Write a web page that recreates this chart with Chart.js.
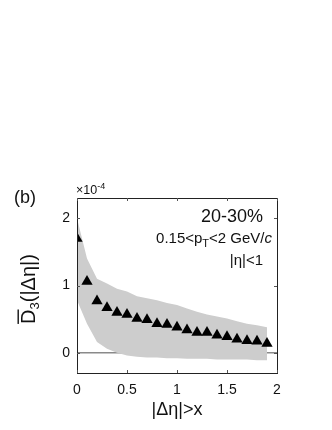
<!DOCTYPE html>
<html><head><meta charset="utf-8">
<script src="https://cdn.jsdelivr.net/npm/chart.js@4/dist/chart.umd.min.js"></script>
<style>html,body{margin:0;padding:0;background:#fff}canvas{display:block}</style>
</head><body>
<canvas id="c" width="332" height="430"></canvas>
<script>
const deltaEta = [0,0.1,0.2,0.3,0.4,0.5,0.6,0.7,0.8,0.9,1.0,1.1,1.2,1.3,1.4,1.5,1.6,1.7,1.8,1.9];
const d3Values = [1.70,1.06,0.77,0.67,0.60,0.57,0.51,0.49,0.43,0.42,0.38,0.34,0.30,0.30,0.26,0.24,0.20,0.18,0.17,0.14];
const bandUpper = [2.00,1.40,1.10,1.03,0.95,0.91,0.84,0.81,0.78,0.74,0.71,0.66,0.61,0.57,0.54,0.51,0.47,0.43,0.41,0.38];
const bandLower = [0.78,0.43,0.16,0.06,0.00,-0.04,-0.06,-0.07,-0.07,-0.08,-0.08,-0.09,-0.09,-0.09,-0.10,-0.10,-0.10,-0.10,-0.11,-0.11];
const xTicks = [0,0.5,1,1.5,2];
const yTicks = [0,1,2];
const xTickLabels = ["0","0.5","1","1.5","2"];
const yTickLabels = ["0","1","2"];

const FONT = '"Liberation Sans", Arial, Helvetica, sans-serif';

const decor = {
  id: 'decor',
  beforeDatasetsDraw(chart) {
    const {ctx, chartArea: a, scales: {x, y}} = chart;
    ctx.save();
    const y0 = y.getPixelForValue(0);
    ctx.strokeStyle = '#8a8a8a'; ctx.lineWidth = 1.5;
    ctx.beginPath(); ctx.moveTo(a.left, y0); ctx.lineTo(a.right, y0); ctx.stroke();
    ctx.restore();
  },
  afterDraw(chart) {
    const {ctx, chartArea: a, scales: {x, y}} = chart;
    ctx.save();
    // frame
    ctx.strokeStyle = '#222'; ctx.lineWidth = 1;
    ctx.strokeRect(Math.round(a.left)+0.5, Math.round(a.top)+0.5, Math.round(a.right-a.left), Math.round(a.bottom-a.top));
    // inward ticks
    ctx.strokeStyle = '#555';
    const tl = 3;
    ctx.beginPath();
    xTicks.forEach(v => { const px = Math.round(x.getPixelForValue(v))+0.5;
      ctx.moveTo(px, a.bottom); ctx.lineTo(px, a.bottom - tl);
      ctx.moveTo(px, a.top); ctx.lineTo(px, a.top + tl); });
    yTicks.forEach(v => { const py = Math.round(y.getPixelForValue(v))+0.5;
      ctx.moveTo(a.left, py); ctx.lineTo(a.left + tl, py);
      ctx.moveTo(a.right, py); ctx.lineTo(a.right - tl, py); });
    ctx.stroke();

    ctx.fillStyle = '#111';
    ctx.textBaseline = 'alphabetic';
    // (b)
    ctx.font = '18px ' + FONT; ctx.textAlign = 'left';
    ctx.fillText('(b)', 14, 203);
    // ×10^-4
    ctx.font = '12.5px ' + FONT;
    ctx.fillText('\u00d710', 76, 194);
    let w = ctx.measureText('\u00d710').width;
    ctx.font = '9px ' + FONT;
    ctx.fillText('-4', 76 + w, 189);

    // annotations (right aligned)
    ctx.font = '18px ' + FONT; ctx.textAlign = 'right';
    ctx.fillText('20-30%', 263, 222);
    ctx.font = '15px ' + FONT; ctx.textAlign = 'left';
    const parts = [['0.15<p', '15px ' + FONT, 0], ['T', '11px ' + FONT, 4], ['<2 GeV/', '15px ' + FONT, 0], ['c', 'italic 15px ' + FONT, 0]];
    let total = 0;
    parts.forEach(p => { ctx.font = p[1]; total += ctx.measureText(p[0]).width; });
    let cx = 272 - total;
    parts.forEach(p => { ctx.font = p[1]; ctx.fillText(p[0], cx, 243 + p[2]); cx += ctx.measureText(p[0]).width; });
    ctx.font = '15px ' + FONT; ctx.textAlign = 'right';
    ctx.fillText('|\u03b7|<1', 263, 265);

    // x title
    ctx.font = '18px ' + FONT; ctx.textAlign = 'center';
    ctx.fillText('|\u0394\u03b7|>x', (a.left + a.right)/2, 415);

    // y title rotated
    ctx.translate(35, 289);
    ctx.rotate(-Math.PI/2);
    const yparts = [['D', '20px ' + FONT, 0], ['3', '13px ' + FONT, 4], ['(|\u0394\u03b7|)', '20px ' + FONT, 0]];
    let tw = 0;
    yparts.forEach(p => { ctx.font = p[1]; tw += ctx.measureText(p[0]).width; });
    let sx = -tw/2;
    ctx.textAlign = 'left';
    yparts.forEach((p, i) => {
      ctx.font = p[1];
      const pw = ctx.measureText(p[0]).width;
      ctx.fillText(p[0], sx, p[2]);
      if (i === 0) { ctx.fillRect(sx, -17.5, pw, 1.4); }
      sx += pw;
    });
    ctx.restore();
  }
};

new Chart(document.getElementById('c'), {
  type: 'scatter',
  data: {
    datasets: [
      { label: 'lower', data: deltaEta.map((v,i)=>({x:v, y:bandLower[i]})), showLine: true,
        borderWidth: 0, borderColor: 'rgba(0,0,0,0)', pointRadius: 0, fill: false, order: 3 },
      { label: 'upper', data: deltaEta.map((v,i)=>({x:v, y:bandUpper[i]})), showLine: true,
        borderWidth: 0, borderColor: 'rgba(0,0,0,0)', pointRadius: 0, fill: '-1',
        backgroundColor: '#cdcdcd', order: 2 },
      { label: 'D3', data: deltaEta.map((v,i)=>({x:v, y:d3Values[i]})), pointStyle: 'triangle',
        pointRadius: 6.5, backgroundColor: '#000', borderColor: '#000', borderWidth: 0, order: 1 }
    ]
  },
  options: {
    responsive: false, animation: false, devicePixelRatio: 1,
    layout: { padding: { left: 0, top: 198, right: 55, bottom: 0 } },
    plugins: { legend: { display: false }, tooltip: { enabled: false } },
    scales: {
      x: { type: 'linear', min: 0, max: 2,
        afterBuildTicks: s => { s.ticks = xTicks.map(v => ({value: v})); },
        afterFit: s => { s.height = 57; },
        grid: { display: false, drawTicks: false }, border: { display: false },
        ticks: { padding: 9, color: '#111', font: { family: FONT, size: 14 },
          callback: (v) => xTickLabels[xTicks.indexOf(v)] ?? '' } },
      y: { type: 'linear', min: -0.3, max: 2.3,
        afterBuildTicks: s => { s.ticks = yTicks.map(v => ({value: v})); },
        afterFit: s => { s.width = 77; },
        grid: { display: false, drawTicks: false }, border: { display: false },
        ticks: { padding: 7, color: '#111', font: { family: FONT, size: 14 },
          callback: (v) => yTickLabels[yTicks.indexOf(v)] ?? '' } }
    }
  },
  plugins: [decor]
});
</script>
</body></html>
